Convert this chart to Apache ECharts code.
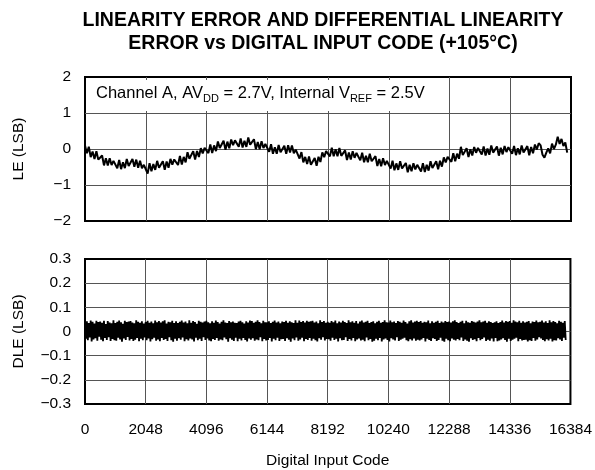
<!DOCTYPE html>
<html>
<head>
<meta charset="utf-8">
<script src="https://cdn.jsdelivr.net/npm/echarts@6/dist/echarts.min.js"></script>
<style>
  html, body { margin: 0; padding: 0; background: #fff; }
  #chart { width: 595px; height: 470px; }
</style>
</head>
<body>
<div id="chart"></div>
<script>
// Code spacing between samples (LSB codes per point)
const leCodeStep = 64;
const dleCodeStep = 32;

// Linearity error (LSB), one value per 64 codes
const leValues = [
  0.10,-0.12,0.065,-0.225,-0.07,-0.275,-0.06,-0.295,
  -0.35,-0.18,-0.455,-0.255,-0.46,-0.255,-0.445,-0.33,
  -0.35,-0.535,-0.305,-0.56,-0.37,-0.53,-0.28,-0.47,
  -0.49,-0.28,-0.495,-0.295,-0.52,-0.325,-0.535,-0.44,
  -0.48,-0.68,-0.395,-0.62,-0.42,-0.58,-0.33,-0.52,
  -0.54,-0.34,-0.575,-0.345,-0.52,-0.275,-0.435,-0.29,
  -0.28,-0.445,-0.195,-0.43,-0.22,-0.37,-0.09,-0.27,
  -0.27,-0.06,-0.295,-0.055,-0.22,0.025,-0.125,0.03,
  0.05,-0.115,0.125,-0.11,0.10,-0.06,0.21,0.03,
  0.03,0.23,-0.025,0.205,0.02,0.265,0.105,0.24,
  0.25,0.065,0.295,0.04,0.23,0.06,0.32,0.12,
  0.10,0.27,-0.005,0.195,-0.01,0.215,0.025,0.14,
  0.12,-0.075,0.135,-0.13,0.05,-0.13,0.11,-0.09,
  -0.12,0.09,-0.135,0.105,-0.10,0.095,-0.115,-0.02,
  -0.05,-0.265,-0.085,-0.37,-0.22,-0.42,-0.21,-0.44,
  -0.47,-0.25,-0.465,-0.215,-0.36,-0.095,-0.225,-0.06,
  -0.05,-0.205,0.035,-0.20,-0.01,-0.20,0.03,-0.19,
  -0.22,-0.04,-0.305,-0.095,-0.29,-0.065,-0.245,-0.11,
  -0.12,-0.315,-0.105,-0.37,-0.19,-0.37,-0.13,-0.34,
  -0.37,-0.20,-0.475,-0.275,-0.48,-0.255,-0.445,-0.33,
  -0.35,-0.545,-0.325,-0.59,-0.40,-0.58,-0.34,-0.54,
  -0.57,-0.39,-0.645,-0.435,-0.62,-0.395,-0.565,-0.44,
  -0.45,-0.625,-0.395,-0.64,-0.44,-0.60,-0.34,-0.53,
  -0.55,-0.34,-0.565,-0.325,-0.49,-0.235,-0.375,-0.22,
  -0.20,-0.355,-0.115,-0.34,-0.13,-0.27,0.06,-0.17,
  -0.17,0.02,-0.225,-0.005,-0.18,0.055,-0.105,0.03,
  0.03,-0.155,0.07,-0.18,0.01,-0.16,0.10,-0.10,
  -0.12,0.07,-0.185,0.035,-0.15,0.085,-0.085,0.05,
  0.05,-0.135,0.085,-0.17,0.02,-0.15,0.10,-0.10,
  -0.12,0.08,-0.175,0.055,-0.12,0.125,-0.015,0.16,
  0.10,-0.16,-0.24,-0.10,0.02,-0.12,0.15,0.00,
  0.12,0.34,0.14,0.28,0.08,0.18,-0.10
];

// Differential linearity error (LSB), one value per 32 codes
const dleValues = [
  0.038,-0.030,0.042,-0.036,0.035,-0.025,0.045,-0.041,0.040,-0.033,0.033,-0.028,0.044,-0.038,0.039,-0.022,
  0.041,-0.034,0.036,-0.040,0.044,-0.027,0.031,-0.035,0.043,-0.024,0.037,-0.039,0.034,-0.031,0.046,-0.036,
  0.035,-0.038,0.040,-0.026,0.045,-0.033,0.038,-0.042,0.032,-0.029,0.044,-0.035,0.039,-0.023,0.041,-0.037,
  0.043,-0.031,0.037,-0.039,0.034,-0.034,0.046,-0.027,0.040,-0.040,0.036,-0.030,0.042,-0.036,0.033,-0.025,
  0.039,-0.036,0.044,-0.029,0.036,-0.041,0.041,-0.032,0.034,-0.026,0.045,-0.038,0.038,-0.033,0.043,-0.040,
  0.037,-0.027,0.042,-0.035,0.046,-0.031,0.033,-0.039,0.040,-0.024,0.038,-0.036,0.044,-0.042,0.035,-0.030,
  0.042,-0.038,0.035,-0.028,0.040,-0.034,0.045,-0.025,0.037,-0.040,0.041,-0.032,0.034,-0.037,0.046,-0.029,
  0.036,-0.033,0.043,-0.041,0.039,-0.026,0.032,-0.036,0.044,-0.030,0.040,-0.039,0.037,-0.024,0.041,-0.035,
  0.044,-0.029,0.038,-0.037,0.034,-0.040,0.042,-0.031,0.036,-0.035,0.045,-0.027,0.039,-0.038,0.033,-0.033,
  0.040,-0.036,0.046,-0.025,0.037,-0.032,0.035,-0.042,0.043,-0.028,0.038,-0.034,0.041,-0.039,0.036,-0.026,
  0.035,-0.040,0.041,-0.030,0.044,-0.037,0.038,-0.027,0.033,-0.035,0.042,-0.041,0.037,-0.029,0.045,-0.034,
  0.043,-0.028,0.036,-0.038,0.040,-0.033,0.046,-0.036,0.039,-0.024,0.034,-0.040,0.044,-0.031,0.038,-0.037,
  0.038,-0.035,0.042,-0.027,0.035,-0.041,0.040,-0.030,0.045,-0.036,0.037,-0.026,0.041,-0.039,0.034,-0.032,
  0.041,-0.031,0.039,-0.039,0.044,-0.028,0.036,-0.034,0.042,-0.042,0.038,-0.029,0.035,-0.036,0.046,-0.025,
  0.036,-0.038,0.045,-0.033,0.039,-0.026,0.043,-0.040,0.037,-0.031,0.044,-0.035,0.040,-0.027,0.042,-0.038,
  0.044,-0.030,0.037,-0.036,0.041,-0.041,0.034,-0.028,0.046,-0.034,0.039,-0.024,0.043,-0.037,0.036,-0.031,
  0.040,-0.032,0.036,-0.038,0.043,-0.026,0.038,-0.035,0.045,-0.030,0.034,-0.041,0.041,-0.028,0.037,-0.036,
  0.044,-0.035,0.039,-0.024,0.035,-0.039,0.046,-0.031,0.038,-0.037,0.042,-0.027,0.036,-0.040,0.043,-0.033,
  0.033,-0.029,0.041,-0.037,0.045,-0.034,0.037,-0.040,0.040,-0.025,0.044,-0.036,0.035,-0.031,0.039,-0.042,
  0.042,-0.038,0.034,-0.030,0.040,-0.036,0.044,-0.027,0.036,-0.041,0.039,-0.033,0.046,-0.029,0.038,-0.035,
  0.037,-0.041,0.045,-0.028,0.038,-0.033,0.041,-0.037,0.035,-0.024,0.043,-0.039,0.040,-0.034,0.036,-0.030,
  0.045,-0.026,0.039,-0.036,0.033,-0.040,0.042,-0.032,0.046,-0.037,0.037,-0.029,0.041,-0.038,0.044,-0.034,
  0.039,-0.037,0.043,-0.033,0.036,-0.027,0.040,-0.041,0.038,-0.030,0.045,-0.035,0.034,-0.039,0.042,-0.028,
  0.036,-0.031,0.040,-0.039,0.044,-0.035,0.035,-0.026,0.041,-0.038,0.037,-0.042,0.043,-0.030,0.039,-0.036,
  0.041,-0.040,0.037,-0.029,0.042,-0.034,0.046,-0.037,0.039,-0.031,0.035,-0.036,0.040,-0.025,0.044,-0.039,
  0.034,-0.033,0.044,-0.038,0.038,-0.042,0.036,-0.028,0.043,-0.035,0.040,-0.032,0.037,-0.040,0.041,-0.027,
  0.046,-0.036,0.038,-0.031,0.041,-0.025,0.044,-0.039,0.036,-0.034,0.042,-0.038,0.039,-0.029,0.035,-0.041,
  0.038,-0.027,0.042,-0.040,0.035,-0.037,0.039,-0.033,0.045,-0.028,0.037,-0.035,0.043,-0.042,0.040,-0.030,
  0.043,-0.039,0.036,-0.034,0.046,-0.030,0.041,-0.026,0.038,-0.040,0.044,-0.031,0.036,-0.037,0.042,-0.035,
  0.037,-0.034,0.040,-0.041,0.043,-0.036,0.034,-0.039,0.041,-0.027,0.039,-0.038,0.045,-0.033,0.038,-0.024,
  0.040,-0.029,0.045,-0.035,0.037,-0.040,0.042,-0.032,0.035,-0.037,0.046,-0.030,0.038,-0.041,0.043,-0.036,
  0.039,-0.037,0.034,-0.028,0.044,-0.033,0.040,-0.039,0.036,-0.026,0.043,-0.035
];

// Axis ticks and labels
const codeTicks = ['0','2048','4096','6144','8192','10240','12288','14336','16384'];
const leTicks = { '-2':'\u22122', '-1':'\u22121', '0':'0', '1':'1', '2':'2' };
const dleTicks = { '-0.3':'\u22120.3', '-0.2':'\u22120.2', '-0.1':'\u22120.1', '0':'0', '0.1':'0.1', '0.2':'0.2', '0.3':'0.3' };

const titleText = 'LINEARITY ERROR AND DIFFERENTIAL LINEARITY\nERROR vs DIGITAL INPUT CODE (+105\u00b0C)';

const FONT = '"Liberation Sans", Arial, Helvetica, sans-serif';
const LABEL_SIZE = 15.5;

const lePoints = leValues.map((v, i) => [i * leCodeStep, v]);
const dlePoints = dleValues.map((v, i) => [i * dleCodeStep, v]);

function fmtKey(v) {
  return String(Math.round(v * 1000) / 1000);
}

const gridStyle = { show: true, borderColor: '#000', borderWidth: 2, backgroundColor: 'transparent' };
const splitStyle = { show: true, showMinLine: false, showMaxLine: false, lineStyle: { color: '#555', width: 1 } };

function xAxisCfg(gridIndex, showLabels) {
  return {
    type: 'value', gridIndex, min: 0, max: 16384, interval: 2048,
    axisLine: { show: false }, axisTick: { show: false },
    splitLine: splitStyle,
    axisLabel: showLabels ? {
      show: true, margin: 18, color: '#000', fontFamily: FONT, fontSize: LABEL_SIZE,
      formatter: (v) => codeTicks[Math.round(v / 2048)]
    } : { show: false },
    name: showLabels ? 'Digital Input Code' : '',
    nameLocation: 'middle', nameGap: 49,
    nameTextStyle: { color: '#000', fontFamily: FONT, fontSize: LABEL_SIZE }
  };
}

function yAxisCfg(gridIndex, min, max, interval, labels, name) {
  return {
    type: 'value', gridIndex, min, max, interval,
    axisLine: { show: false }, axisTick: { show: false },
    splitLine: splitStyle,
    axisLabel: {
      margin: 14, color: '#000', fontFamily: FONT, fontSize: LABEL_SIZE,
      formatter: (v) => labels[fmtKey(v)] ?? String(v)
    },
    name, nameLocation: 'middle', nameGap: 58,
    nameTextStyle: { color: '#000', fontFamily: FONT, fontSize: LABEL_SIZE }
  };
}

const chart = echarts.init(document.getElementById('chart'), null, { renderer: 'canvas' });

chart.setOption({
  animation: false,
  backgroundColor: '#fff',
  title: {
    text: titleText,
    left: 318, top: 4, textAlign: 'center',
    textStyle: { fontFamily: FONT, fontWeight: 'bold', fontSize: 19.5, lineHeight: 23, color: '#000' }
  },
  grid: [
    Object.assign({ left: 85, top: 77, width: 486, height: 144 }, gridStyle),
    Object.assign({ left: 85, top: 259, width: 486, height: 145 }, gridStyle)
  ],
  xAxis: [xAxisCfg(0, false), xAxisCfg(1, true)],
  yAxis: [
    yAxisCfg(0, -2, 2, 1, leTicks, 'LE (LSB)'),
    yAxisCfg(1, -0.3, 0.3, 0.1, dleTicks, 'DLE (LSB)')
  ],
  graphic: [
    {
      type: 'rect', z: 50,
      shape: { x: 88, y: 80, width: 357, height: 31 },
      style: { fill: '#fff' }
    },
    {
      type: 'text', z: 51, left: 96, top: 85,
      style: {
        text: '{n|Channel A, AV}{s|DD}{n| = 2.7V, Internal V}{s|REF}{n| = 2.5V}',
        fill: '#000',
        rich: {
          n: { fontFamily: FONT, fontSize: 16.5, lineHeight: 22, verticalAlign: 'middle' },
          s: { fontFamily: FONT, fontSize: 11, lineHeight: 10, verticalAlign: 'bottom' }
        }
      }
    }
  ],
  series: [
    {
      type: 'line', xAxisIndex: 0, yAxisIndex: 0, data: lePoints,
      showSymbol: false, symbol: 'none',
      lineStyle: { color: '#000', width: 2 }, z: 5
    },
    {
      type: 'line', xAxisIndex: 1, yAxisIndex: 1, data: dlePoints,
      showSymbol: false, symbol: 'none',
      lineStyle: { color: '#000', width: 1.8 }, z: 5
    }
  ]
});
</script>
</body>
</html>
